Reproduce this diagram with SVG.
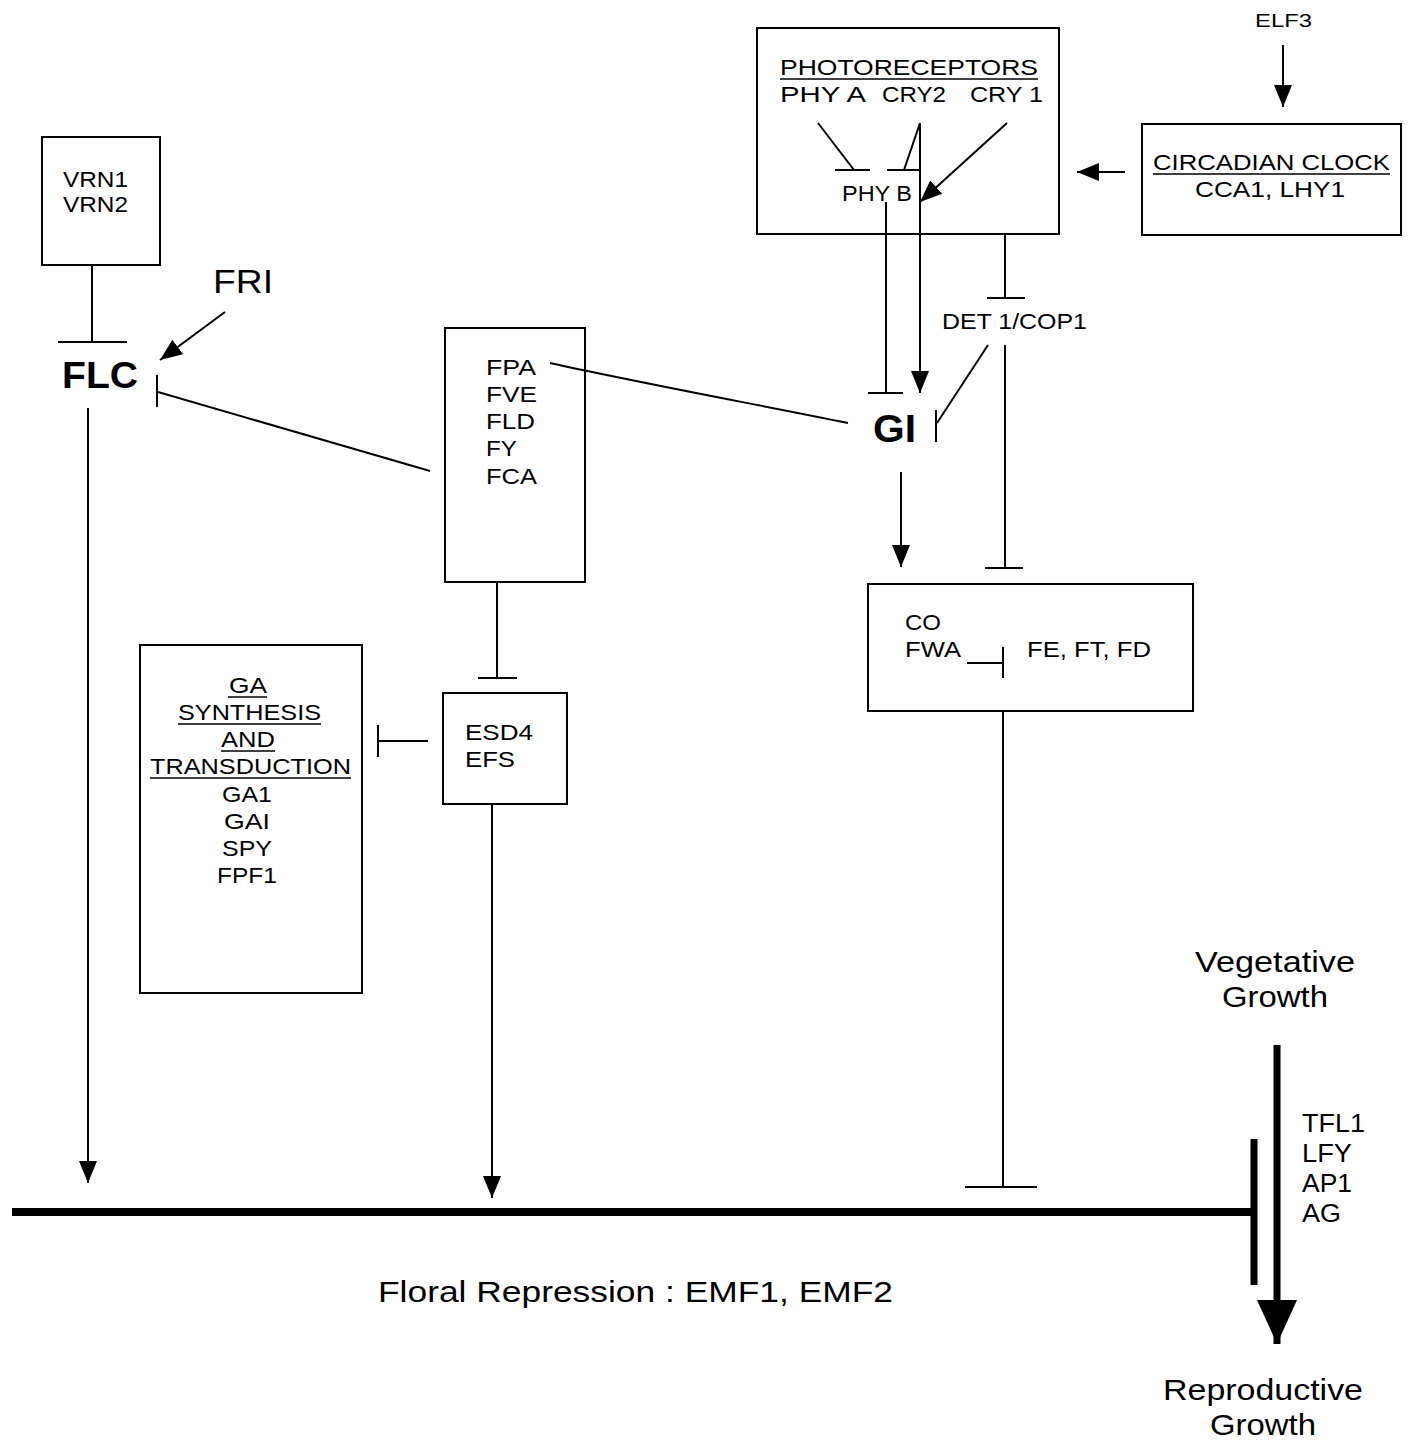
<svg xmlns="http://www.w3.org/2000/svg" width="1408" height="1441" viewBox="0 0 1408 1441">
<defs>
<style>
.box{fill:#fff;stroke:#000;stroke-width:2}
.t{font-family:"Liberation Sans",Arial,sans-serif;font-size:22px;fill:#000}
.b{font-weight:bold}
.s19{font-size:19px}
.s25{font-size:25px}
.s30{font-size:30px}
.s34{font-size:34px}
.s36{font-size:36px}
.s38{font-size:38px}
.ln{stroke:#000;stroke-width:2;fill:none}
.u{stroke:#000;stroke-width:1.5}
</style>
<marker id="arr" markerUnits="userSpaceOnUse" markerWidth="22" markerHeight="20" viewBox="0 0 22 20" refX="22" refY="10" orient="auto">
<path d="M0,1 L22,10 L0,19 z" fill="#000"/>
</marker>
<marker id="big" markerUnits="userSpaceOnUse" markerWidth="44" markerHeight="40" viewBox="0 0 44 40" refX="44" refY="20" orient="auto">
<path d="M0,0 L44,20 L0,40 z" fill="#000"/>
</marker>
</defs>
<rect width="1408" height="1441" fill="#fff"/>

<g id="photoreceptors">
<rect class="box" x="757" y="28" width="302" height="206"/>
<text class="t" x="780" y="75" textLength="258" lengthAdjust="spacingAndGlyphs">PHOTORECEPTORS</text>
<line class="u" x1="780" y1="79" x2="1038" y2="79"/>
<text class="t" x="780" y="102" textLength="86" lengthAdjust="spacingAndGlyphs">PHY A</text>
<text class="t" x="882" y="102" textLength="64" lengthAdjust="spacingAndGlyphs">CRY2</text>
<text class="t" x="970" y="102" textLength="73" lengthAdjust="spacingAndGlyphs">CRY 1</text>
<text class="t" x="842" y="201" textLength="70" lengthAdjust="spacingAndGlyphs">PHY B</text>
</g>

<g id="circadian">
<rect class="box" x="1142" y="124" width="259" height="111"/>
<text class="t" x="1153" y="170" textLength="237" lengthAdjust="spacingAndGlyphs">CIRCADIAN CLOCK</text>
<line class="u" x1="1153" y1="174" x2="1390" y2="174"/>
<text class="t" x="1195" y="197" textLength="150" lengthAdjust="spacingAndGlyphs">CCA1,  LHY1</text>
</g>

<g id="elf3">
<text class="t s19" x="1255" y="27" textLength="57" lengthAdjust="spacingAndGlyphs">ELF3</text>
</g>

<g id="vrn">
<rect class="box" x="42" y="137" width="118" height="128"/>
<text class="t" x="63" y="187" textLength="65" lengthAdjust="spacingAndGlyphs">VRN1</text>
<text class="t" x="63" y="212" textLength="65" lengthAdjust="spacingAndGlyphs">VRN2</text>
</g>

<g id="fri">
<text class="t s34" x="213" y="293" textLength="60" lengthAdjust="spacingAndGlyphs">FRI</text>
</g>

<g id="flc">
<text class="t b s36" x="62" y="388" textLength="76" lengthAdjust="spacingAndGlyphs">FLC</text>
</g>

<g id="fpa">
<rect class="box" x="445" y="328" width="140" height="254"/>
<text class="t" x="486" y="375" textLength="50" lengthAdjust="spacingAndGlyphs">FPA</text>
<text class="t" x="486" y="402" textLength="51" lengthAdjust="spacingAndGlyphs">FVE</text>
<text class="t" x="486" y="429" textLength="49" lengthAdjust="spacingAndGlyphs">FLD</text>
<text class="t" x="486" y="456" textLength="31" lengthAdjust="spacingAndGlyphs">FY</text>
<text class="t" x="486" y="484" textLength="51" lengthAdjust="spacingAndGlyphs">FCA</text>
</g>

<g id="gi">
<text class="t b s38" x="873" y="442" textLength="43" lengthAdjust="spacingAndGlyphs">GI</text>
</g>

<g id="det1">
<text class="t" x="942" y="329" textLength="145" lengthAdjust="spacingAndGlyphs">DET 1/COP1</text>
</g>

<g id="co">
<rect class="box" x="868" y="584" width="325" height="127"/>
<text class="t" x="905" y="630" textLength="36" lengthAdjust="spacingAndGlyphs">CO</text>
<text class="t" x="905" y="657" textLength="56" lengthAdjust="spacingAndGlyphs">FWA</text>
<text class="t" x="1027" y="657" textLength="124" lengthAdjust="spacingAndGlyphs">FE, FT, FD</text>
</g>

<g id="ga">
<rect class="box" x="140" y="645" width="222" height="348"/>
<text class="t" x="229" y="693" textLength="38" lengthAdjust="spacingAndGlyphs">GA</text>
<text class="t" x="178" y="720" textLength="143" lengthAdjust="spacingAndGlyphs">SYNTHESIS</text>
<text class="t" x="221" y="747" textLength="54" lengthAdjust="spacingAndGlyphs">AND</text>
<text class="t" x="150" y="774" textLength="201" lengthAdjust="spacingAndGlyphs">TRANSDUCTION</text>
<text class="t" x="222" y="802" textLength="50" lengthAdjust="spacingAndGlyphs">GA1</text>
<text class="t" x="224" y="829" textLength="46" lengthAdjust="spacingAndGlyphs">GAI</text>
<text class="t" x="222" y="856" textLength="50" lengthAdjust="spacingAndGlyphs">SPY</text>
<text class="t" x="217" y="883" textLength="60" lengthAdjust="spacingAndGlyphs">FPF1</text>
<line class="u" x1="228" y1="697" x2="267" y2="697"/>
<line class="u" x1="178" y1="724" x2="321" y2="724"/>
<line class="u" x1="221" y1="751" x2="275" y2="751"/>
<line class="u" x1="150" y1="778" x2="351" y2="778"/>
</g>

<g id="esd4">
<rect class="box" x="443" y="693" width="124" height="111"/>
<text class="t" x="465" y="740" textLength="68" lengthAdjust="spacingAndGlyphs">ESD4</text>
<text class="t" x="465" y="767" textLength="50" lengthAdjust="spacingAndGlyphs">EFS</text>
</g>

<g id="growth">
<text class="t s30" x="1195" y="972" textLength="160" lengthAdjust="spacingAndGlyphs">Vegetative</text>
<text class="t s30" x="1222" y="1007" textLength="106" lengthAdjust="spacingAndGlyphs">Growth</text>
<text class="t s25" x="1302" y="1132" textLength="63" lengthAdjust="spacingAndGlyphs">TFL1</text>
<text class="t s25" x="1302" y="1162" textLength="50" lengthAdjust="spacingAndGlyphs">LFY</text>
<text class="t s25" x="1302" y="1192" textLength="50" lengthAdjust="spacingAndGlyphs">AP1</text>
<text class="t s25" x="1302" y="1222" textLength="39" lengthAdjust="spacingAndGlyphs">AG</text>
<text class="t s30" x="1163" y="1400" textLength="200" lengthAdjust="spacingAndGlyphs">Reproductive</text>
<text class="t s30" x="1210" y="1435" textLength="106" lengthAdjust="spacingAndGlyphs">Growth</text>
</g>

<g id="floral">
<text class="t s30" x="378" y="1302" textLength="515" lengthAdjust="spacingAndGlyphs">Floral Repression :  EMF1,  EMF2</text>
</g>

<g id="connectors">
<line class="ln" x1="1283" y1="45" x2="1283" y2="107" marker-end="url(#arr)"/>
<line class="ln" x1="1125" y1="172" x2="1077" y2="172" marker-end="url(#arr)"/>
<line class="ln" x1="818" y1="123" x2="854" y2="170"/>
<line class="ln" x1="835" y1="170" x2="870" y2="170"/>
<line class="ln" x1="920" y1="123" x2="904" y2="170"/>
<line class="ln" x1="887" y1="170" x2="920" y2="170"/>
<line class="ln" x1="920" y1="123" x2="920" y2="393" marker-end="url(#arr)"/>
<line class="ln" x1="1007" y1="123" x2="920" y2="202" marker-end="url(#arr)"/>
<line class="ln" x1="886" y1="202" x2="886" y2="393"/>
<line class="ln" x1="868" y1="393" x2="903" y2="393"/>
<line class="ln" x1="1005" y1="234" x2="1005" y2="298"/>
<line class="ln" x1="987" y1="298" x2="1025" y2="298"/>
<line class="ln" x1="988" y1="345" x2="937" y2="423"/>
<line class="ln" x1="936" y1="410" x2="936" y2="442"/>
<line class="ln" x1="1005" y1="345" x2="1005" y2="568"/>
<line class="ln" x1="985" y1="568" x2="1023" y2="568"/>
<line class="ln" x1="901" y1="472" x2="901" y2="567" marker-end="url(#arr)"/>
<path class="ln" d="M550,363 C650,385 760,405 848,423"/>
<line class="ln" x1="92" y1="265" x2="92" y2="342"/>
<line class="ln" x1="58" y1="342" x2="127" y2="342"/>
<line class="ln" x1="225" y1="312" x2="160" y2="360" marker-end="url(#arr)"/>
<line class="ln" x1="430" y1="471" x2="158" y2="392"/>
<line class="ln" x1="157" y1="375" x2="157" y2="407"/>
<line class="ln" x1="88" y1="408" x2="88" y2="1183" marker-end="url(#arr)"/>
<line class="ln" x1="497" y1="582" x2="497" y2="678"/>
<line class="ln" x1="478" y1="678" x2="517" y2="678"/>
<line class="ln" x1="428" y1="741" x2="378" y2="741"/>
<line class="ln" x1="378" y1="725" x2="378" y2="757"/>
<line class="ln" x1="492" y1="804" x2="492" y2="1198" marker-end="url(#arr)"/>
<line class="ln" x1="967" y1="663" x2="1003" y2="663"/>
<line class="ln" x1="1003" y1="647" x2="1003" y2="678"/>
<line class="ln" x1="1003" y1="711" x2="1003" y2="1187"/>
<line class="ln" x1="965" y1="1187" x2="1037" y2="1187"/>
<line x1="12" y1="1212" x2="1254" y2="1212" stroke="#000" stroke-width="8"/>
<line x1="1254" y1="1139" x2="1254" y2="1285" stroke="#000" stroke-width="7"/>
<line x1="1277" y1="1045" x2="1277" y2="1344" stroke="#000" stroke-width="7" marker-end="url(#big)"/>
</g>
</svg>
